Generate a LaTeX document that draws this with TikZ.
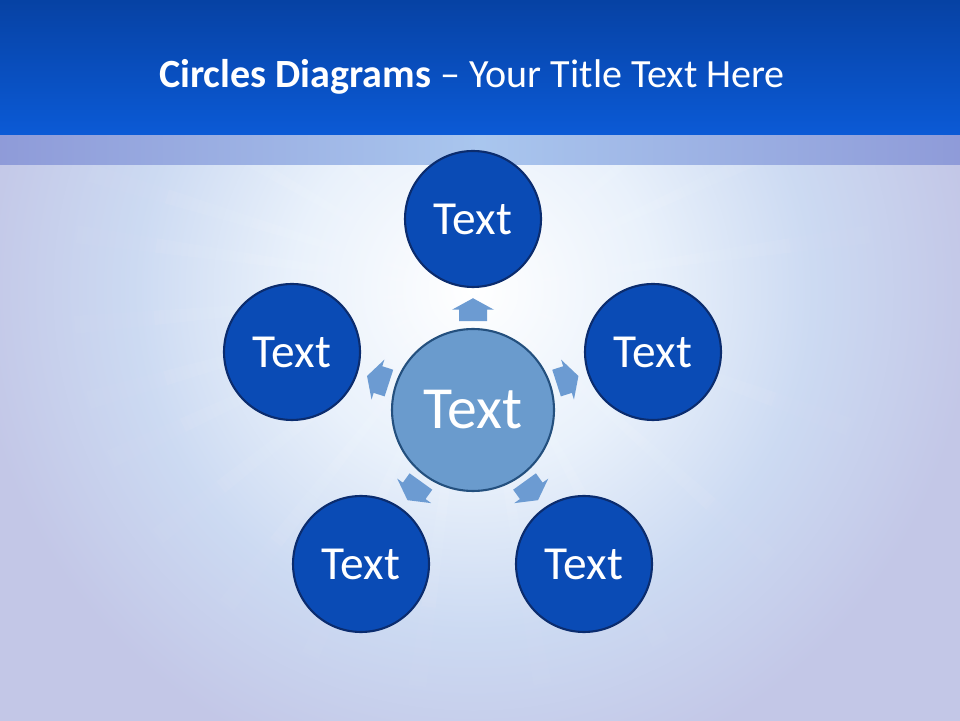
\documentclass[tikz,border=0pt]{standalone}
\usepackage{fontspec}
\setmainfont{Carlito}
\usepackage{tikz}
\usetikzlibrary{calc}
\definecolor{bandtop}{HTML}{0640A0}
\definecolor{bandbot}{HTML}{0B5AD6}
\definecolor{stripside}{HTML}{8E9AD8}
\definecolor{stripmid}{HTML}{A9C6EE}
\definecolor{bgcol}{HTML}{C3C7E7}
\definecolor{glowmid}{HTML}{E9F1FB}
\definecolor{glowout}{HTML}{CCDAF2}
\definecolor{circblue}{HTML}{0A4BB5}
\definecolor{rimdark}{HTML}{0B2C6E}
\definecolor{hubfill}{HTML}{6A9BCD}
\definecolor{hubrim}{HTML}{24507E}
\definecolor{arrowblue}{HTML}{6C9BD2}
\pgfdeclareradialshading{glow}{\pgfpoint{0bp}{0bp}}{color(0bp)=(white); color(9bp)=(glowmid); color(17bp)=(glowout); color(25bp)=(bgcol); color(50bp)=(bgcol)}
\tikzset{
  outer/.style={circle, draw=rimdark, line width=1.2pt, fill=circblue, text=white,
    minimum size=2.72cm, inner sep=0pt, font=\fontsize{27}{27}\selectfont},
  hubstyle/.style={circle, draw=hubrim, line width=1.2pt, fill=hubfill, text=white,
    minimum size=3.24cm, inner sep=0pt, font=\fontsize{34}{34}\selectfont},
  blockarrow/.pic={\fill[arrowblue] (-11.5,-14) -- (0,-14) -- (0,-21) -- (11.5,0) -- (0,21) -- (0,14) -- (-11.5,14) -- cycle;}
}

\begin{document}
\begin{tikzpicture}[x=0.02cm, y=0.02cm]
        \useasboundingbox (0,0) rectangle (960,720);
        % background
        \fill[bgcol] (-10,-10) rectangle (970,555);
        \begin{scope}
            \clip (-10,-10) rectangle (970,555);
            \shade[shading=glow] (473,430) circle (500);
            % rays
            \foreach \a in {150,163,172,185,196,205,218,232,246,262,280,298,318,340,8,25,40,62,118,134}
                \foreach \r/\o in {0/0.12, 140/0.08, 230/0.05, 310/0.025}
                    \fill[white, opacity=\o] ($(473,430)+(\a-1.3:\r)$) -- ($(473,430)+(\a-1.3:\r+90)$)
                        -- ($(473,430)+(\a+1.3:\r+90)$) -- ($(473,430)+(\a+1.3:\r)$) -- cycle;
        \end{scope}
        % strip under title
        \shade[left color=stripside, right color=stripside, middle color=stripmid] (-10,555) rectangle (970,585);
        % title band
        \shade[top color=bandtop, bottom color=bandbot] (-10,585) rectangle (970,730);
        \node[text=white, anchor=base, font=\fontsize{22.8}{22.8}\selectfont] (title) at (472,632)
            {\textbf{Circles Diagrams} -- Your Title Text Here};

        % circles
        \node[hubstyle] (hub) at (473,310) {Text};
        \node[outer] (top) at (473,501) {Text};
        \node[outer] (left) at (292,368) {Text};
        \node[outer] (right) at (653,368) {Text};
        \node[outer] (botleft) at (361,156) {Text};
        \node[outer] (botright) at (584,156) {Text};

        % arrows
        \foreach \n/\ang in {top/90, right/17.9, left/162.1, botright/-54.2, botleft/-125.8}
            \pic[rotate=\ang] at ($(hub)!0.525!(\n)$) {blockarrow};
\end{tikzpicture}
\end{document}
